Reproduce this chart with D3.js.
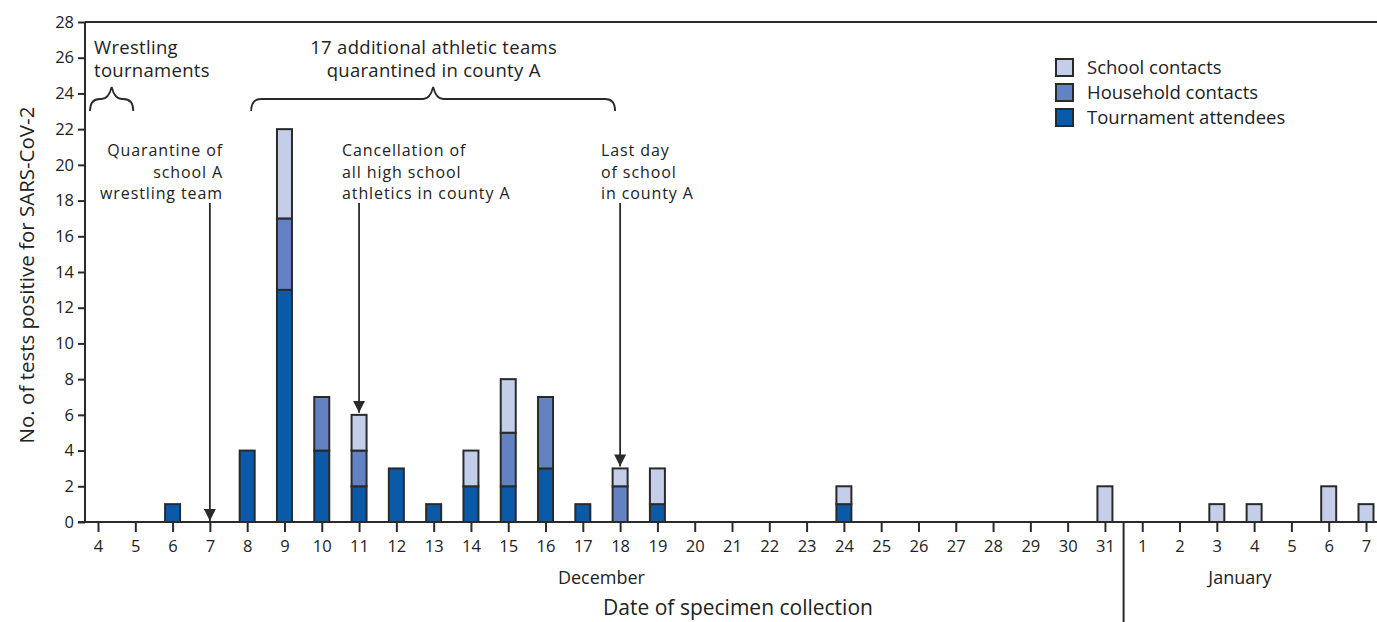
<!DOCTYPE html>
<html><head><meta charset="utf-8">
<script src="https://cdn.jsdelivr.net/npm/d3@7"></script>
<style>
body{margin:0;background:#fff;}
text{font-family:"Open Sans",sans-serif;fill:#222;}
</style></head>
<body><svg id="c" width="1377" height="622"></svg>
<script>
const dayKeys = ["D4","D5","D6","D7","D8","D9","D10","D11","D12","D13","D14","D15","D16","D17","D18","D19","D20","D21","D22","D23","D24","D25","D26","D27","D28","D29","D30","D31","J1","J2","J3","J4","J5","J6","J7"];
const dayLabels = ["4","5","6","7","8","9","10","11","12","13","14","15","16","17","18","19","20","21","22","23","24","25","26","27","28","29","30","31","1","2","3","4","5","6","7"];
const tournament = [0,0,1,0,4,13,4,2,3,1,2,2,3,1,0,1,0,0,0,0,1,0,0,0,0,0,0,0,0,0,0,0,0,0,0];
const household  = [0,0,0,0,0,4,3,2,0,0,0,3,4,0,2,0,0,0,0,0,0,0,0,0,0,0,0,0,0,0,0,0,0,0,0];
const school     = [0,0,0,0,0,5,0,2,0,0,2,3,0,0,1,2,0,0,0,0,1,0,0,0,0,0,0,2,0,0,1,1,0,2,1];
const seriesNames = ["Tournament attendees","Household contacts","School contacts"];
const seriesColors = ["#0a5aa8","#6282c2","#c4cee9"];
const yTicks = [0,2,4,6,8,10,12,14,16,18,20,22,24,26,28];

const svg = d3.select("#c");
const x = d3.scalePoint().domain(dayKeys).range([98,1366]);
const y = d3.scaleLinear().domain([0,28]).range([522,22]);
const barW = 15;

const table = dayKeys.map((k,i)=>({key:k, "Tournament attendees":tournament[i], "Household contacts":household[i], "School contacts":school[i]}));
const stacked = d3.stack().keys(seriesNames)(table);

stacked.forEach((layer,li)=>{
  svg.append("g").selectAll("rect").data(layer.filter(d=>d[1]-d[0]>0)).join("rect")
    .attr("x",d=>x(d.data.key)-barW/2).attr("width",barW)
    .attr("y",d=>y(d[1])).attr("height",d=>y(d[0])-y(d[1]))
    .attr("fill",seriesColors[li]).attr("stroke","#2a2a2a").attr("stroke-width",2);
});

const yAxis = svg.append("g").attr("transform","translate(85,0)")
  .call(d3.axisLeft(y).tickValues(yTicks).tickSize(7).tickPadding(4));
yAxis.select(".domain").attr("stroke","#2a2a2a").attr("stroke-width",2).attr("d","M0,"+y(28)+"V"+y(0));
yAxis.selectAll(".tick line").attr("stroke","#2a2a2a").attr("stroke-width",2);
yAxis.selectAll(".tick text").style("font-size","16.5px").attr("fill","#222");

svg.append("line").attr("x1",85).attr("x2",1377).attr("y1",y(28)).attr("y2",y(28)).attr("stroke","#2a2a2a").attr("stroke-width",2);

const xAxis = svg.append("g").attr("transform","translate(0,"+y(0)+")")
  .call(d3.axisBottom(x).tickSize(10).tickPadding(8).tickFormat((d,i)=>dayLabels[i]));
xAxis.select(".domain").attr("d","M78,0H1377").attr("stroke","#2a2a2a").attr("stroke-width",2);
xAxis.selectAll(".tick line").attr("stroke","#2a2a2a").attr("stroke-width",2);
xAxis.selectAll(".tick text").style("font-size","16.5px").attr("fill","#222");

const sepX = (x("D31")+x("J1"))/2;
svg.append("line").attr("x1",sepX).attr("x2",sepX).attr("y1",y(0)).attr("y2",622).attr("stroke","#2a2a2a").attr("stroke-width",2);

svg.append("text").attr("x",(x("D17")+x("D18"))/2).attr("y",584).attr("text-anchor","middle").style("font-size","18px").text("December");
svg.append("text").attr("x",1240).attr("y",584).attr("text-anchor","middle").style("font-size","18px").text("January");
svg.append("text").attr("x",738).attr("y",615).attr("text-anchor","middle").style("font-size","21px").text("Date of specimen collection");

svg.append("text").attr("transform","translate(34,275) rotate(-90)").attr("text-anchor","middle").style("font-size","20.5px").text("No. of tests positive for SARS-CoV-2");

const lg = svg.append("g");
[ ["School contacts",2],["Household contacts",1],["Tournament attendees",0] ].forEach((d,i)=>{
  lg.append("rect").attr("x",1056).attr("y",59+i*25).attr("width",17).attr("height",17)
    .attr("fill",seriesColors[d[1]]).attr("stroke","#2a2a2a").attr("stroke-width",2);
  lg.append("text").attr("x",1087).attr("y",74+i*25).style("font-size","18.5px").text(d[0]);
});

function brace(x1,x2,yTop,yBot){
  const xm=(x1+x2)/2, ym=(yTop+yBot)/2, r=10;
  return `M${x1},${yBot} Q${x1},${ym} ${x1+r},${ym} L${xm-10},${ym} Q${xm-3},${ym} ${xm},${yTop} Q${xm+3},${ym} ${xm+10},${ym} L${x2-r},${ym} Q${x2},${ym} ${x2},${yBot}`;
}
svg.append("path").attr("d",brace(x("D4")-8,x("D5")-2,87,111)).attr("fill","none").attr("stroke","#2a2a2a").attr("stroke-width",1.8);
svg.append("path").attr("d",brace(x("D8")+4,x("D18")-5,87,111)).attr("fill","none").attr("stroke","#2a2a2a").attr("stroke-width",1.8);

function multi(xp,yp,lines,anchor,dy,fs,ls){
  const t=svg.append("text").attr("x",xp).attr("y",yp).attr("text-anchor",anchor).style("font-size",fs+"px").style("letter-spacing",ls+"px");
  lines.forEach((l,i)=>t.append("tspan").attr("x",xp).attr("dy",i?dy:0).text(l));
}
multi(94,54,["Wrestling","tournaments"],"start",23,18.5,0.3);
multi((x("D8")+x("D18"))/2,54,["17 additional athletic teams","quarantined in county A"],"middle",23,18.5,0.3);
multi(223,156,["Quarantine of","school A","wrestling team"],"end",21.5,16,0.9);
multi(342,156,["Cancellation of","all high school","athletics in county A"],"start",21.5,16,0.9);
multi(601,156,["Last day","of school","in county A"],"start",21.5,16,0.9);

svg.append("defs").append("marker").attr("id","ah").attr("viewBox","0 0 10 10").attr("refX",10).attr("refY",5)
  .attr("markerWidth",12).attr("markerHeight",12).attr("markerUnits","userSpaceOnUse").attr("orient","auto")
  .append("path").attr("d","M0,0L10,5L0,10Z").attr("fill","#2a2a2a");
function arrow(key,yEnd){
  svg.append("line").attr("x1",x(key)).attr("x2",x(key)).attr("y1",203).attr("y2",yEnd)
    .attr("stroke","#2a2a2a").attr("stroke-width",1.8).attr("marker-end","url(#ah)");
}
const totals = dayKeys.map((k,i)=>tournament[i]+household[i]+school[i]);
arrow("D7",y(totals[dayKeys.indexOf("D7")])-1);
arrow("D11",y(totals[dayKeys.indexOf("D11")])-2);
arrow("D18",y(totals[dayKeys.indexOf("D18")])-2);
</script></body></html>
